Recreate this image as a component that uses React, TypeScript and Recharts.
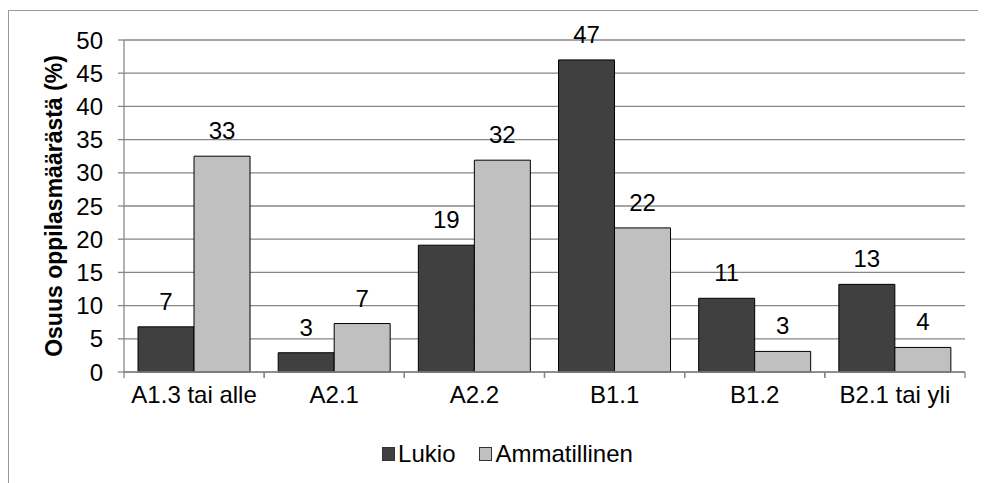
import { BarChart, Bar, XAxis, YAxis, CartesianGrid, Legend, LabelList, Text } from "recharts";

const categories = ["A1.3 tai alle", "A2.1", "A2.2", "B1.1", "B1.2", "B2.1 tai yli"];
const lukio = [6.8, 2.9, 19.1, 47.0, 11.1, 13.2];
const ammatillinen = [32.5, 7.3, 31.9, 21.7, 3.1, 3.7];
const yTicks = [0, 5, 10, 15, 20, 25, 30, 35, 40, 45, 50];

const data = categories.map((cat, i) => ({
  cat,
  Lukio: lukio[i],
  Ammatillinen: ammatillinen[i],
}));

const FONT = '"Liberation Sans", Arial, sans-serif';
const AXIS = "#878787";
const FS = 24;

function CategoryTick(props: any) {
  const { x, y, payload, width, visibleTicksCount } = props;
  const half = payload.offset || width / visibleTicksCount / 2;
  return (
    <g>
      <line x1={x - half} x2={x - half} y1={y} y2={y + 6} stroke={AXIS} strokeWidth={1.3} />
      <line x1={x + half} x2={x + half} y1={y} y2={y + 6} stroke={AXIS} strokeWidth={1.3} />
      <text x={x} y={y + 14} dy="0.71em" textAnchor="middle" fontSize={FS} fill="#000">
        {payload.value}
      </text>
    </g>
  );
}

function YTitle(props: any) {
  const { viewBox } = props;
  return (
    <Text
      x={viewBox.x + 46}
      y={viewBox.y + viewBox.height / 2}
      angle={-90}
      textAnchor="middle"
      verticalAnchor="middle"
      fontSize={23}
      fontWeight="bold"
      fill="#000"
    >
      Osuus oppilasmäärästä (%)
    </Text>
  );
}

function LegendBox() {
  const items = [
    { name: "Lukio", color: "#404040" },
    { name: "Ammatillinen", color: "#c0c0c0" },
  ];
  return (
    <div
      style={{
        height: 61,
        boxSizing: "border-box",
        paddingTop: 3,
        paddingLeft: 66,
        display: "flex",
        justifyContent: "center",
        fontSize: FS,
        lineHeight: "26px",
        fontFamily: FONT,
        color: "#000",
      }}
    >
      {items.map((it) => (
        <span key={it.name} style={{ display: "flex", alignItems: "center", marginRight: 24 }}>
          <span
            style={{
              width: 11,
              height: 12,
              background: it.color,
              border: "1px solid #333",
              marginRight: 3,
              display: "inline-block",
            }}
          />
          {it.name}
        </span>
      ))}
    </div>
  );
}

export default function App() {
  return (
    <div style={{ position: "relative", width: 978, height: 475, fontFamily: FONT }}>
      <div
        style={{
          position: "absolute",
          left: 0,
          top: 2,
          width: 978,
          height: 473,
          boxSizing: "border-box",
          borderLeft: "1.5px solid #9a9a9a",
          borderTop: "1.5px solid #9a9a9a",
        }}
      />
      <div style={{ position: "absolute", left: 0, top: 0 }}>
        <BarChart
          width={978}
          height={475}
          data={data}
          margin={{ top: 32, right: 21, left: 0, bottom: 0 }}
          barCategoryGap="10%"
          barGap={0}
          style={{ fontFamily: FONT }}
        >
          <CartesianGrid vertical={false} stroke={AXIS} strokeWidth={1.3} />
          <XAxis
            dataKey="cat"
            height={50}
            tickLine={false}
            tickSize={0}
            tickMargin={0}
            axisLine={{ stroke: AXIS, strokeWidth: 1.3 }}
            tick={<CategoryTick />}
            interval={0}
          />
          <YAxis
            width={116}
            domain={[0, 50]}
            ticks={yTicks}
            interval={0}
            tickSize={6}
            tickMargin={15}
            axisLine={{ stroke: AXIS, strokeWidth: 1.3 }}
            tickLine={{ stroke: AXIS, strokeWidth: 1.3 }}
            tick={{ fontSize: FS, fill: "#000" }}
            label={{ content: <YTitle /> }}
          />
          <Legend verticalAlign="bottom" content={<LegendBox />} />
          <Bar dataKey="Lukio" fill="#404040" stroke="#000" strokeWidth={1} isAnimationActive={false}>
            <LabelList
              dataKey="Lukio"
              position="top"
              offset={17}
              formatter={(v: any) => Math.round(v)}
              fontSize={FS}
              fill="#000"
            />
          </Bar>
          <Bar dataKey="Ammatillinen" fill="#c0c0c0" stroke="#000" strokeWidth={1} isAnimationActive={false}>
            <LabelList
              dataKey="Ammatillinen"
              position="top"
              offset={17}
              formatter={(v: any) => Math.round(v)}
              fontSize={FS}
              fill="#000"
            />
          </Bar>
        </BarChart>
      </div>
    </div>
  );
}
